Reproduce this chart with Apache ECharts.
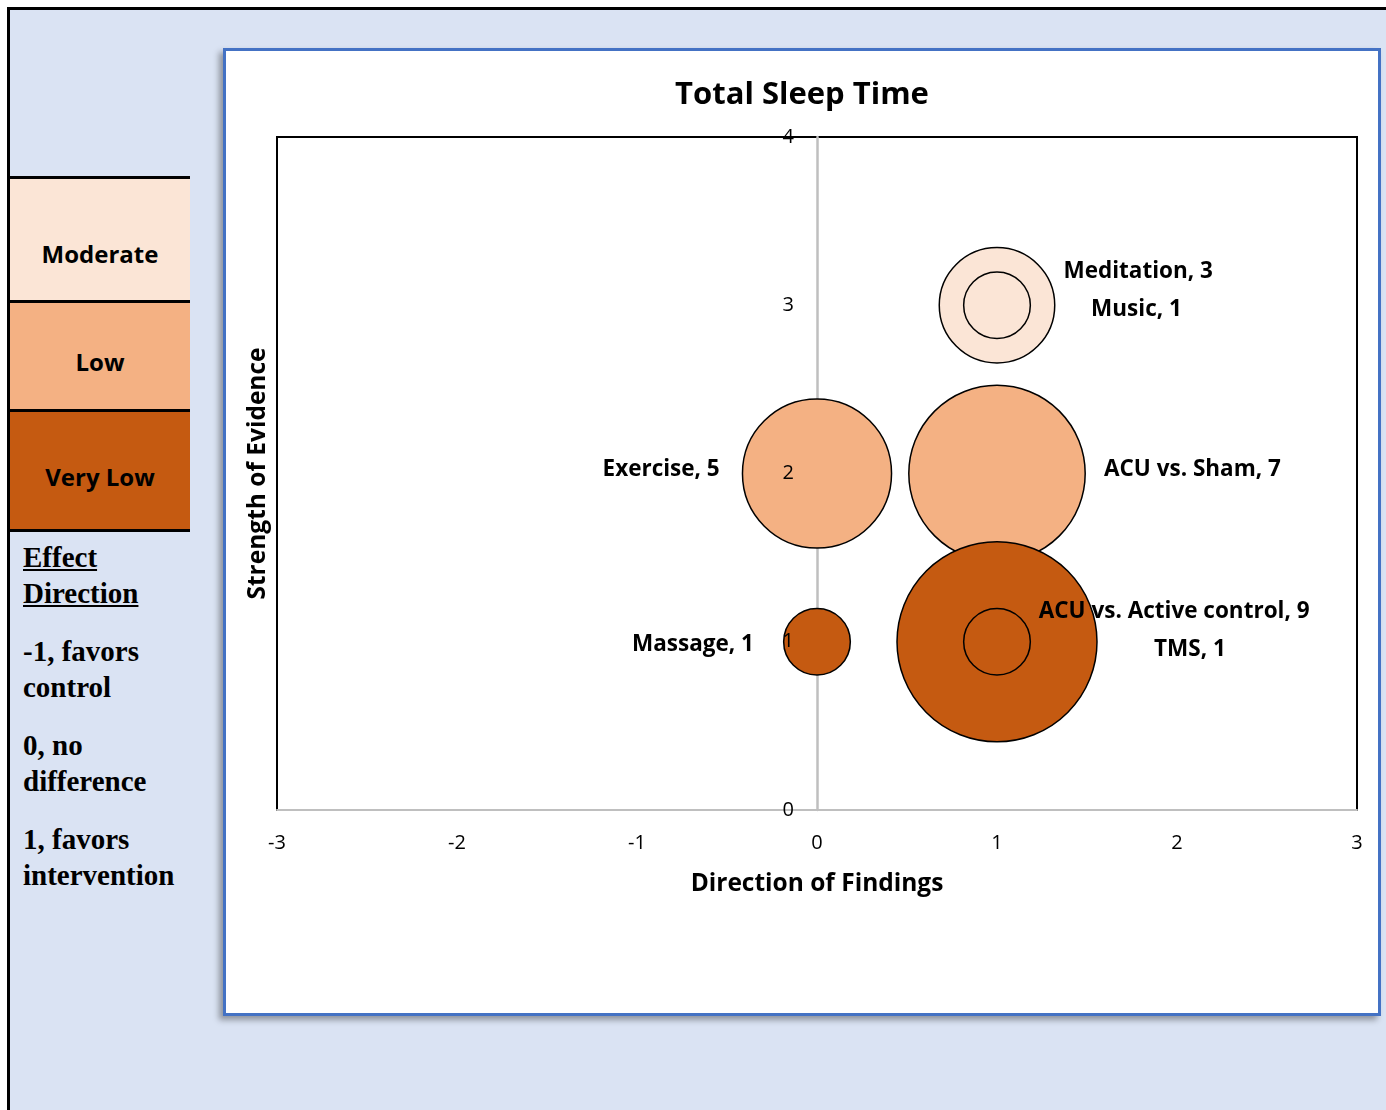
<!DOCTYPE html>
<html>
<head>
<meta charset="utf-8">
<script src="https://cdn.jsdelivr.net/npm/echarts@6/dist/echarts.min.js"></script>
<style>
  body { margin: 0; width: 1386px; height: 1110px; overflow: hidden; background: #fff; position: relative; }
  #frame { position: absolute; left: 7px; top: 7px; width: 1500px; height: 1200px; border: 3px solid #000; background: #dae3f3; }
  #panel { position: absolute; left: 223px; top: 48px; width: 1152px; height: 962px; border: 3px solid #4472c4; background: #fff; box-shadow: -4px 4px 6px rgba(0,0,0,.35); }
  .grade { position: absolute; left: 10px; width: 180px; border-top: 3px solid #000; font-family: "Open Sans", sans-serif; font-weight: bold; font-size: 24px; line-height: 30px; color: #000; }
  .grade span { position: absolute; left: 0; width: 100%; text-align: center; }
  #notes { position: absolute; left: 23px; top: 539px; font-family: "Liberation Serif", serif; font-weight: bold; font-size: 29px; line-height: 36px; color: #000; }
  #notes p { margin: 0 0 22px 0; }
  #chart { position: absolute; left: 226px; top: 51px; width: 1152px; height: 962px; }
</style>
</head>
<body>
<div id="frame"></div>
<div id="legend"></div>
<div id="notes">
  <p><u>Effect</u><br><u>Direction</u></p>
  <p>-1, favors<br>control</p>
  <p>0, no<br>difference</p>
  <p>1, favors<br>intervention</p>
</div>
<div id="panel"></div>
<div id="chart"></div>
<script>
// 证据强度分级
var grades = ['Moderate', 'Low', 'Very Low'];
var gradeLevels = [3, 2, 1];
var gradeColors = ['#fbe5d6', '#f4b183', '#c55a11'];

// 每个干预措施：方向、证据强度、研究数量
var names = ['Meditation', 'Music', 'Exercise', 'ACU vs. Sham', 'Massage', 'ACU vs. Active control', 'TMS'];
var direction = [1, 1, 0, 1, 0, 1, 1];
var strength = [3, 3, 2, 2, 1, 1, 1];
var studies = [3, 1, 5, 7, 1, 9, 1];

var xTicks = [-3, -2, -1, 0, 1, 2, 3];
var yTicks = [0, 1, 2, 3, 4];

// 标签位置（手动调整过的）
var labelPos = {
  'Meditation': { position: 'right', offset: [3, -34] },
  'Music': { position: 'right', offset: [55, 4] },
  'Exercise': { position: 'left', offset: [-17, -4] },
  'ACU vs. Sham': { position: 'right', offset: [13, -4] },
  'Massage': { position: 'left', offset: [-24, 3] },
  'ACU vs. Active control': { position: 'right', offset: [-64, -30] },
  'TMS': { position: 'right', offset: [118, 8] }
};

// 左侧色块图例
var boxTops = [176, 300, 409];
var boxHeights = [121, 106, 117];
var textMid = [254, 362, 477];
var legendHtml = '';
grades.forEach(function (g, i) {
  var style = 'top:' + boxTops[i] + 'px;height:' + boxHeights[i] + 'px;background:' + gradeColors[i] + ';';
  if (i === grades.length - 1) style += 'border-bottom:3px solid #000;';
  legendHtml += '<div class="grade" style="' + style + '"><span style="top:' + (textMid[i] - 15 - boxTops[i] - 3) + 'px">' + g + '</span></div>';
});
document.getElementById('legend').innerHTML = legendHtml;

var maxStudies = Math.max.apply(null, studies);
var font = 'Open Sans';
var gridWidth = 1080;
var xMin = xTicks[0], xMax = xTicks[xTicks.length - 1];
// 刻度文字所在的 x=0 位置（相对 grid 左边）
var zeroOffset = -(0 - xMin) / (xMax - xMin) * gridWidth;

var series = grades.map(function (g, gi) {
  var data = [];
  names.forEach(function (n, i) {
    if (strength[i] !== gradeLevels[gi]) return;
    data.push({
      name: n,
      value: [direction[i], strength[i], studies[i]],
      label: labelPos[n]
    });
  });
  return {
    name: g,
    type: 'scatter',
    z: 3,
    data: data,
    // 气泡面积与研究数量成比例
    symbolSize: function (v) {
      return 200 * Math.sqrt(v[2] / maxStudies);
    },
    itemStyle: {
      color: gradeColors[gi],
      borderColor: '#000',
      borderWidth: 1.5,
      opacity: 1
    },
    label: {
      show: true,
      distance: 5,
      color: '#000',
      fontFamily: font,
      fontWeight: 'bold',
      fontSize: 22.5,
      formatter: function (p) {
        return p.name + ', ' + p.value[2];
      }
    },
    emphasis: { disabled: true }
  };
});

var chart = echarts.init(document.getElementById('chart'));
var option = {
  animation: false,
  title: {
    text: 'Total Sleep Time',
    left: 'center',
    top: 24,
    textStyle: { fontFamily: font, fontWeight: 'bold', fontSize: 31, color: '#000' }
  },
  grid: {
    left: 51,
    top: 86,
    width: gridWidth,
    height: 673,
    show: true,
    borderColor: '#000',
    borderWidth: 2
  },
  xAxis: {
    type: 'value',
    min: xMin,
    max: xMax,
    interval: 1,
    z: 1,
    axisLine: { lineStyle: { color: '#bfbfbf', width: 2 } },
    axisTick: { show: false },
    splitLine: { show: false },
    axisLabel: { margin: 23, fontFamily: font, fontSize: 20, color: '#000' },
    name: 'Direction of Findings',
    nameLocation: 'middle',
    nameGap: 62,
    nameTextStyle: { fontFamily: font, fontWeight: 'bold', fontSize: 24.5, color: '#000' }
  },
  yAxis: [{
    // x=0 处的灰色竖线，在气泡下面
    type: 'value',
    position: 'left',
    min: yTicks[0],
    max: yTicks[yTicks.length - 1],
    interval: 1,
    z: 0,
    axisLine: { show: true, onZero: true, lineStyle: { color: '#bfbfbf', width: 2.5 } },
    axisTick: { show: false },
    axisLabel: { show: false },
    splitLine: { show: false }
  }, {
    // 刻度文字，画在气泡上面
    type: 'value',
    position: 'left',
    offset: zeroOffset,
    min: yTicks[0],
    max: yTicks[yTicks.length - 1],
    interval: 1,
    z: 10,
    axisLine: { show: false, onZero: false },
    axisTick: { show: false },
    axisLabel: { margin: 23, fontFamily: font, fontSize: 20, color: '#000' },
    splitLine: { show: false }
  }, {
    // 只用来放轴名称
    type: 'value',
    position: 'left',
    min: yTicks[0],
    max: yTicks[yTicks.length - 1],
    interval: 1,
    axisLine: { show: false, onZero: false },
    axisTick: { show: false },
    axisLabel: { show: false },
    splitLine: { show: false },
    name: 'Strength of Evidence',
    nameLocation: 'middle',
    nameGap: 6,
    nameTextStyle: { fontFamily: font, fontWeight: 'bold', fontSize: 24.5, color: '#000' }
  }],
  series: series
};
chart.setOption(option);
</script>
</body>
</html>
